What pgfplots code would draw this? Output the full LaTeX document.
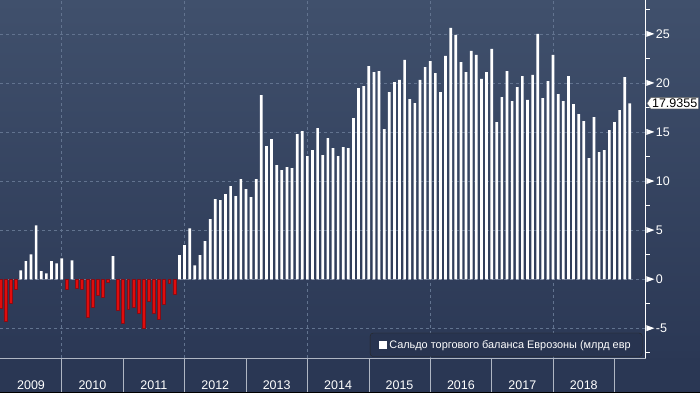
\documentclass[border=0pt]{standalone}
\usepackage{fontspec}
\setmainfont{Liberation Sans}
\usepackage{pgfplots}
\usepackage{pgfplotstable}
\pgfplotsset{compat=1.18}
\usetikzlibrary{shapes.symbols}

\definecolor{bgtop}{RGB}{64,80,108}
\definecolor{bgbot}{RGB}{43,56,85}
\definecolor{band}{RGB}{42,55,84}
\definecolor{gridc}{RGB}{98,115,143}
\definecolor{barred}{RGB}{225,12,12}
\definecolor{reddark}{RGB}{135,12,22}
\definecolor{sepc}{RGB}{175,182,195}
\definecolor{legfill}{RGB}{40,52,80}

\newcommand{\tri}{\tikz[baseline=-4.4pt]\fill[white] (0,-3pt) -- (0,3pt) -- (8pt,0) -- cycle;}

\pgfplotstableread{
k v
4 0.92
5 1.84
6 2.55
7 5.5
8 0.82
9 0.61
10 1.84
11 1.63
12 2.14
14 1.94
22 2.35
35 2.45
36 3.47
37 5.2
38 1.43
39 2.45
40 3.88
41 6.12
42 8.16
43 8.06
44 8.67
45 9.5
46 8.47
47 10.2
48 9.18
49 8.37
50 10.2
51 18.77
52 13.57
53 14.29
54 11.63
55 11.12
56 11.43
57 11.33
58 14.8
59 15.1
60 12.55
61 13.16
62 15.41
63 12.65
64 14.39
65 13.37
66 12.55
67 13.47
68 13.37
69 16.43
70 19.49
71 19.69
72 21.73
73 21.12
74 21.22
75 15.31
76 19.08
77 20.1
78 20.31
79 22.35
80 18.37
81 17.96
82 20.31
83 21.63
84 22.24
85 21.02
86 19.08
87 22.76
88 25.61
89 24.9
90 22.14
91 21.12
92 23.27
93 22.86
94 20.41
95 21.12
96 23.47
97 16.02
98 18.57
99 21.22
100 18.16
101 19.59
102 20.71
103 18.27
104 20.82
105 25.0
106 18.47
107 20.2
108 22.86
109 18.88
110 18.16
111 20.71
112 17.86
113 16.84
114 16.12
115 12.35
116 16.53
117 12.96
118 13.16
119 15.2
120 16.02
121 17.24
122 20.61
123 17.9355
}\postab

\pgfplotstableread{
k v
0 -3.0
1 -4.25
2 -2.4
3 -1.05
13 -1.05
15 -0.9
16 -1.0
17 -3.9
18 -2.8
19 -1.6
20 -1.87
21 -0.27
23 -3.2
24 -4.45
25 -3.1
26 -2.86
27 -3.5
28 -4.97
29 -2.2
30 -3.5
31 -4.05
32 -2.5
33 -0.37
34 -1.5
}\negtab

\begin{document}
\begin{tikzpicture}
\useasboundingbox (0,-35pt) rectangle (700pt,358pt);
\clip (0,-35pt) rectangle (700pt,358pt);
\shade[top color=bgtop, bottom color=bgbot] (0,0) rectangle (700pt,358pt);
\fill[band] (0,-35pt) rectangle (700pt,0);
\draw[black, line width=1pt] (0,-34.5pt) -- (700pt,-34.5pt);
\begin{axis}[
  at={(0,0)}, anchor=south west,
  width=645.7pt, height=358pt, scale only axis,
  xmin=-0.06, xmax=126.1, ymin=-8.02, ymax=28.46,
  clip=false,
  axis x line*=bottom, axis y line*=right,
  x axis line style={draw=sepc, line width=0.8pt, -},
  y axis line style={draw=white, line width=0.8pt, -},
  ytick={-5,0,5,10,15,20,25},
  minor ytick={-7.5,-2.5,2.5,7.5,12.5,17.5,22.5,27.5},
  major tick length=0pt, minor tick length=4pt, tick align=outside,
  minor tick style={white, line width=0.8pt},
  ymajorgrids,
  major grid style={gridc, dash pattern=on 3pt off 3pt, line width=0.6pt},
  xtick={6,18,30,42,54,66,78,90,102,114},
  xticklabels={2009,2010,2011,2012,2013,2014,2015,2016,2017,2018},
  extra x ticks={12,36,60,84,108},
  extra x tick labels={},
  extra x tick style={grid=major, major tick length=0pt},
  /pgf/number format/assume math mode=true,
  yticklabel={\tri\hspace{1.5pt}\pgfmathprintnumber{\tick}},
  yticklabel style={anchor=west, inner sep=0pt, xshift=0.5pt, text=white,
    font=\fontsize{12.5}{14}\selectfont},
  xticklabel style={anchor=base, yshift=-31pt, text=white,
    font=\fontsize{12.5}{14}\selectfont},
  legend image code/.code={\fill[white, sharp corners] (0pt,-3.8pt) rectangle (7.6pt,3.8pt);},
  legend style={at={(0.573,0.0036)}, anchor=south west, draw=black!85,
    fill=legfill, rounded corners=3pt, text=white,
    font=\fontsize{10.9}{12}\selectfont, inner xsep=9pt, inner ysep=5pt,
    nodes={inner xsep=2.5pt}},
  legend cell align=left,
]
\addplot[ybar, bar width=2.7pt, bar shift=0pt, fill=white, draw=none] table[x=k, y=v] {\postab};
\addlegendentry{Сальдо торгового баланса Еврозоны (млрд евр}
\addplot[ybar, bar width=2.9pt, bar shift=0pt, fill=barred, draw=reddark, line width=0.5pt, forget plot] table[x=k, y=v] {\negtab};
\pgfplotsinvokeforeach{12,24,36,48,60,72,84,96,108,120}{
  \draw[sepc, line width=0.6pt] (axis cs:#1,-8.02) -- ++(0pt,-34pt);
}
\node[signal, signal to=west, signal pointer angle=110, fill=white, draw=black!60,
  text=black, font=\fontsize{12.5}{14}\selectfont, inner sep=1.2pt,
  anchor=west, xshift=1pt] at (axis cs:126.1,17.9355) {17.9355};
\end{axis}
\end{tikzpicture}
\end{document}
